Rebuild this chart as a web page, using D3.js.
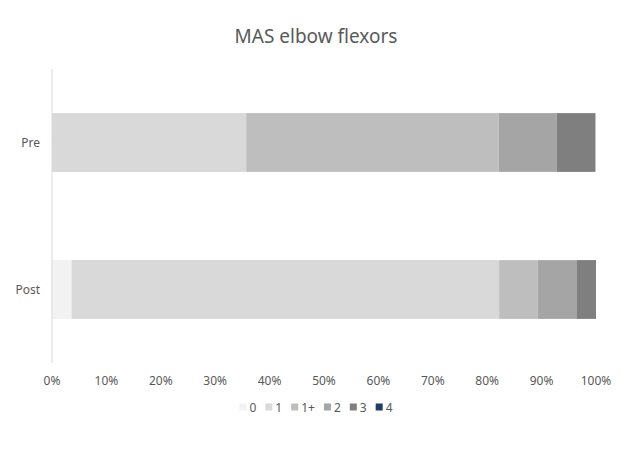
<!DOCTYPE html>
<html>
<head>
<meta charset="utf-8">
<script src="https://cdn.jsdelivr.net/npm/d3@7"></script>
<style>
  body { margin: 0; background: #fff; }
  svg { display: block; font-family: "Noto Sans", "Noto Sans CJK JP", sans-serif; }
</style>
</head>
<body>
<div id="chart"></div>
<script>
const categories = ["Pre", "Post"];
const levels = ["0", "1", "1+", "2", "3", "4"];
// percentage of patients per MAS level
const preValues = [0, 35.7, 46.4, 10.7, 7.1, 0];
const postValues = [3.6, 78.6, 7.1, 7.1, 3.6, 0];
const xTicks = [0, 10, 20, 30, 40, 50, 60, 70, 80, 90, 100];
const colors = ["#f2f2f2", "#d9d9d9", "#bfbebe", "#a5a5a5", "#7f7f7f", "#1d3f62"];

const width = 630, height = 453;
const margin = { top: 69, right: 34, bottom: 90, left: 52 };

const svg = d3.select("#chart")
  .append("svg")
  .attr("width", width)
  .attr("height", height);

const x = d3.scaleLinear()
  .domain([0, 100])
  .range([margin.left, width - margin.right]);

const y = d3.scaleBand()
  .domain(categories)
  .range([margin.top, height - margin.bottom])
  .paddingInner(0.6)
  .paddingOuter(0.3);

const rows = categories.map((c, i) => {
  const vals = i === 0 ? preValues : postValues;
  const row = { category: c };
  levels.forEach((l, j) => (row[l] = vals[j]));
  return row;
});

const series = d3.stack().keys(levels)(rows);

svg
  .append("text")
  .attr("x", 316)
  .attr("y", 43)
  .attr("text-anchor", "middle")
  .attr("fill", "#595959")
  .style("font-size", "19px")
  .text("MAS elbow flexors");

svg
  .selectAll("g.series")
  .data(series)
  .enter()
  .append("g")
  .attr("class", "series")
  .attr("fill", (d, i) => colors[i])
  .selectAll("rect")
  .data((d) => d)
  .enter()
  .append("rect")
  .attr("x", (d) => x(d[0]))
  .attr("y", (d) => y(d.data.category))
  .attr("width", (d) => x(d[1]) - x(d[0]))
  .attr("height", y.bandwidth());

// vertical axis line
svg
  .append("line")
  .attr("x1", x(0))
  .attr("x2", x(0))
  .attr("y1", margin.top)
  .attr("y2", height - margin.bottom)
  .attr("stroke", "#d9d9d9")
  .attr("stroke-width", 1);

svg
  .selectAll("text.cat")
  .data(categories)
  .enter()
  .append("text")
  .attr("class", "cat")
  .attr("x", 40)
  .attr("y", (d) => y(d) + y.bandwidth() / 2)
  .attr("text-anchor", "end")
  .attr("dominant-baseline", "central")
  .attr("fill", "#595959")
  .style("font-size", "12px")
  .text((d) => d);

svg
  .selectAll("text.tick")
  .data(xTicks)
  .enter()
  .append("text")
  .attr("class", "tick")
  .attr("x", (d) => x(d))
  .attr("y", 380)
  .attr("text-anchor", "middle")
  .attr("dominant-baseline", "central")
  .attr("fill", "#595959")
  .style("font-size", "12px")
  .text((d) => d + "%");

// legend
const legend = svg.append("g").attr("class", "legend");
let lx = 0;
levels.forEach((l, i) => {
  const item = legend.append("g").attr("transform", `translate(${lx},0)`);
  item
    .append("rect")
    .attr("x", 0)
    .attr("y", -3.5)
    .attr("width", 7)
    .attr("height", 7)
    .attr("fill", colors[i]);
  const t = item
    .append("text")
    .attr("x", 10)
    .attr("y", 0)
    .attr("dominant-baseline", "central")
    .attr("fill", "#595959")
    .style("font-size", "12px")
    .text(l);
  lx += 10 + t.node().getComputedTextLength() + 9;
});
lx -= 9;
legend.attr("transform", `translate(${316 - lx / 2},407)`);
</script>
</body>
</html>
